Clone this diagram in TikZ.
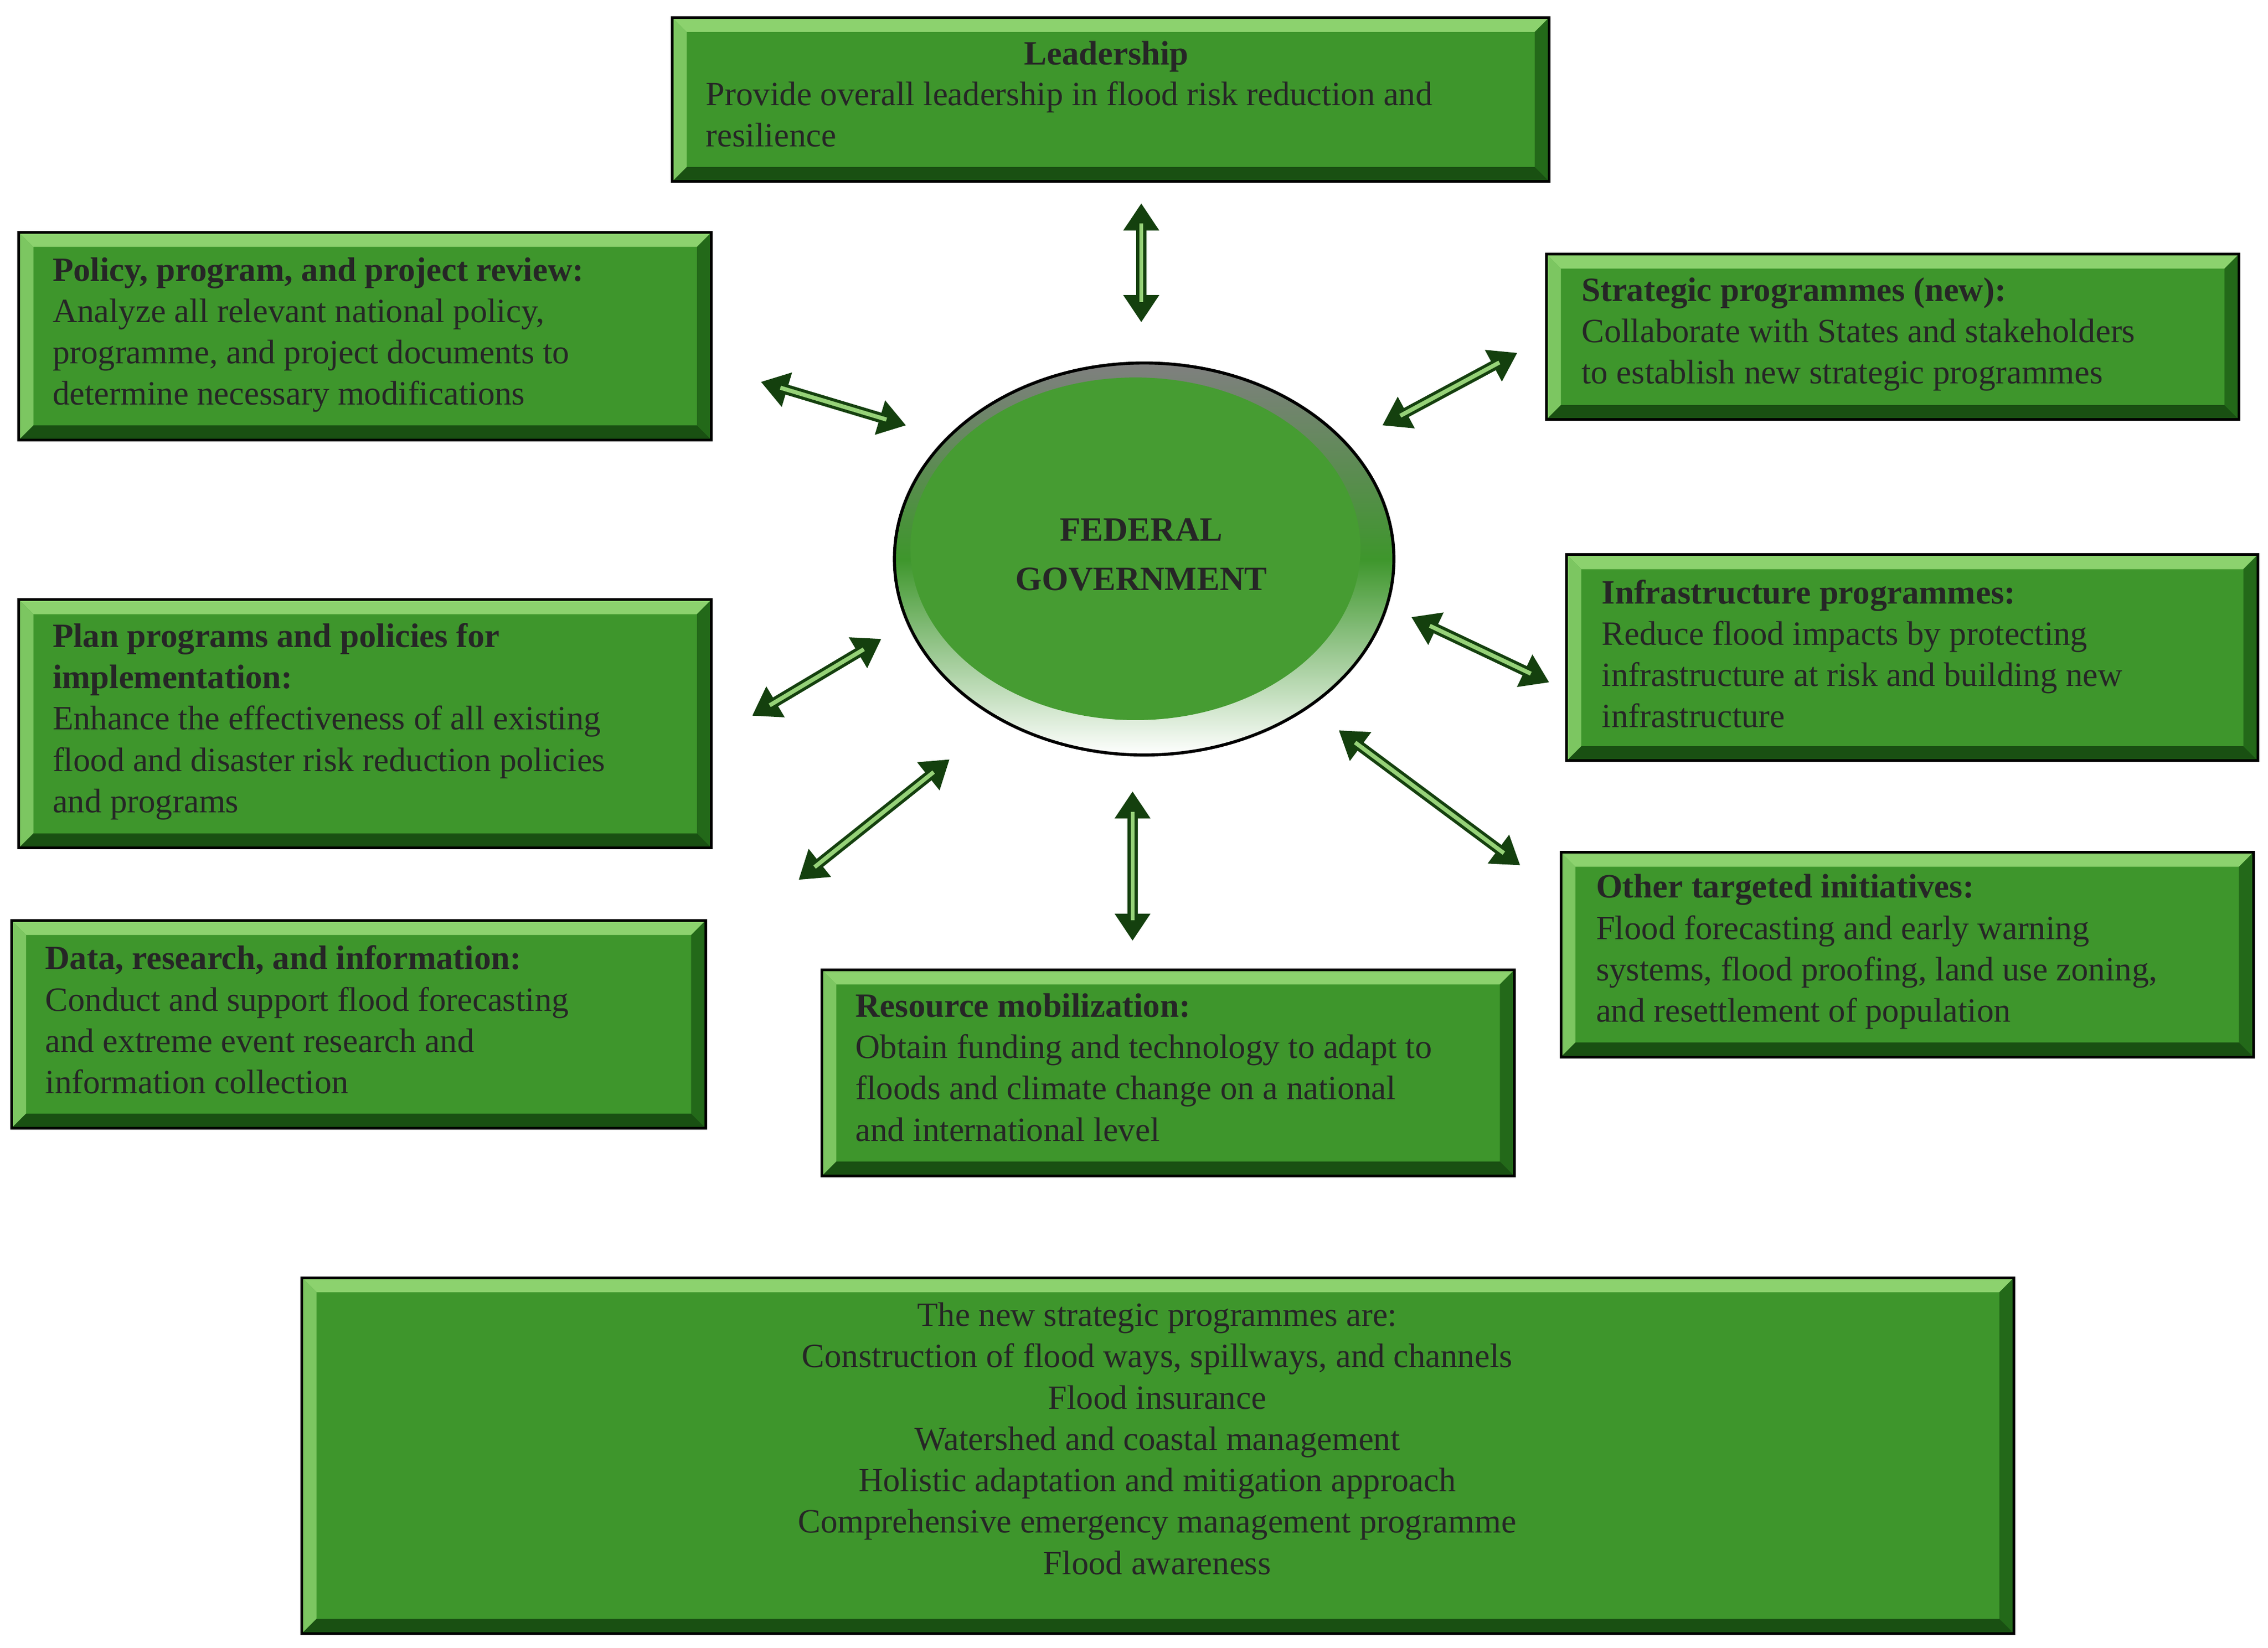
\documentclass[tikz,border=0pt]{standalone}
\usepackage{fontspec}
\setmainfont{Liberation Serif}
\usetikzlibrary{arrows.meta,calc,shadings}
\definecolor{gface}{RGB}{62,150,44}
\definecolor{glight}{RGB}{140,210,110}
\definecolor{gdark}{RGB}{25,80,18}
\definecolor{gright}{RGB}{35,105,25}
\definecolor{garrow}{RGB}{150,210,120}
\tikzset{
 x=0.03cm,y=-0.03cm,
 bevbox/.style={draw=black,line width=1.6pt,fill=gface,inner sep=0pt,
  path picture={
   \def\b{0.3cm}
   \fill[glight] (path picture bounding box.north west) -- (path picture bounding box.north east) -- ([shift={(-\b,-\b)}]path picture bounding box.north east) -- ([shift={(\b,-\b)}]path picture bounding box.north west) -- cycle;
   \fill[glight!80!gface] (path picture bounding box.north west) -- (path picture bounding box.south west) -- ([shift={(\b,\b)}]path picture bounding box.south west) -- ([shift={(\b,-\b)}]path picture bounding box.north west) -- cycle;
   \fill[gright] (path picture bounding box.north east) -- (path picture bounding box.south east) -- ([shift={(-\b,\b)}]path picture bounding box.south east) -- ([shift={(-\b,-\b)}]path picture bounding box.north east) -- cycle;
   \fill[gdark] (path picture bounding box.south west) -- (path picture bounding box.south east) -- ([shift={(-\b,\b)}]path picture bounding box.south east) -- ([shift={(\b,\b)}]path picture bounding box.south west) -- cycle;
  }},
 txt/.style={anchor=north west,align=left,inner sep=0pt,font=\fontsize{20}{24.3}\selectfont,text=black!85},
 ctxt/.style={anchor=north,align=center,inner sep=0pt,font=\fontsize{20}{24.3}\selectfont,text=black!85},
 arrout/.style={line width=6pt,draw=gdark!80!black,{Triangle[length=16pt,width=20pt]}-{Triangle[length=16pt,width=20pt]}},
 arrin/.style={line width=2.4pt,draw=garrow,shorten <=12pt,shorten >=12pt},
}
\newcommand{\bx}[5]{\path[bevbox] (#2,#3) rectangle (#4,#5); \coordinate (#1) at (#2,#3);}
\begin{document}
\begin{tikzpicture}
\useasboundingbox (0,0) rectangle (1562,1135);
\fill[white] (0,0) rectangle (1562,1135);
% boxes
\bx{lead}{463}{12}{1067}{125}
\node[ctxt] (hlead) at (762,28) {\textbf{Leadership}};
\node[txt] (tlead) at (486,56) {Provide overall leadership in flood risk reduction and\\resilience};
\bx{pol}{13}{160}{490}{303}
\node[txt] (tpol) at (36,177) {\textbf{Policy, program, and project review:}\\Analyze all relevant national policy,\\programme, and project documents to\\determine necessary modifications};
\bx{str}{1065}{175}{1542}{289}
\node[txt] (tstr) at (1089,191) {\textbf{Strategic programmes (new):}\\Collaborate with States and stakeholders\\to establish new strategic programmes};
\bx{plan}{13}{413}{490}{584}
\node[txt] (tplan) at (36,429) {\textbf{Plan programs and policies for}\\\textbf{implementation:}\\Enhance the effectiveness of all existing\\flood and disaster risk reduction policies\\and programs};
\bx{inf}{1079}{382}{1555}{524}
\node[txt] (tinf) at (1103,399) {\textbf{Infrastructure programmes:}\\Reduce flood impacts by protecting\\infrastructure at risk and building new\\infrastructure};
\bx{dat}{8}{634}{486}{777}
\node[txt] (tdat) at (31,651) {\textbf{Data, research, and information:}\\Conduct and support flood forecasting\\and extreme event research and\\information collection};
\bx{res}{566}{668}{1043}{810}
\node[txt] (tres) at (589,684) {\textbf{Resource mobilization:}\\Obtain funding and technology to adapt to\\floods and climate change on a national\\and international level};
\bx{oth}{1075}{587}{1552}{728}
\node[txt] (toth) at (1099,602) {\textbf{Other targeted initiatives:}\\Flood forecasting and early warning\\systems, flood proofing, land use zoning,\\and resettlement of population};
\bx{bot}{208}{880}{1387}{1125}
\node[ctxt] (tbot) at (797,897) {The new strategic programmes are:\\Construction of flood ways, spillways, and channels\\Flood insurance\\Watershed and coastal management\\Holistic adaptation and mitigation approach\\Comprehensive emergency management programme\\Flood awareness};
% ellipse
\shade[draw=black,line width=1.8pt,inner color=glight!70!gface,outer color=gdark,middle color=gface] (788,385) ellipse [x radius=172, y radius=135];
\fill[gface!90!glight] (782,378) ellipse [x radius=155, y radius=118];
\node[ctxt,font=\bfseries\fontsize{20}{29}\selectfont] (fed) at (786,357) {FEDERAL\\GOVERNMENT};
% arrow endpoints
\coordinate (a1) at (786,140); \coordinate (b1) at (786,222);
\coordinate (a2) at (524,263); \coordinate (b2) at (624,293);
\coordinate (a3) at (952,293); \coordinate (b3) at (1045,243);
\coordinate (a4) at (518,493); \coordinate (b4) at (607,440);
\coordinate (a5) at (972,425); \coordinate (b5) at (1067,470);
\coordinate (a6) at (550,606); \coordinate (b6) at (654,523);
\coordinate (a7) at (780,545); \coordinate (b7) at (780,648);
\coordinate (a8) at (922,503); \coordinate (b8) at (1047,596);
\foreach \i in {1,...,8}{
 \draw[arrout] (a\i) -- (b\i);
 \draw[arrin] (a\i) -- (b\i);
}
\end{tikzpicture}
\end{document}
